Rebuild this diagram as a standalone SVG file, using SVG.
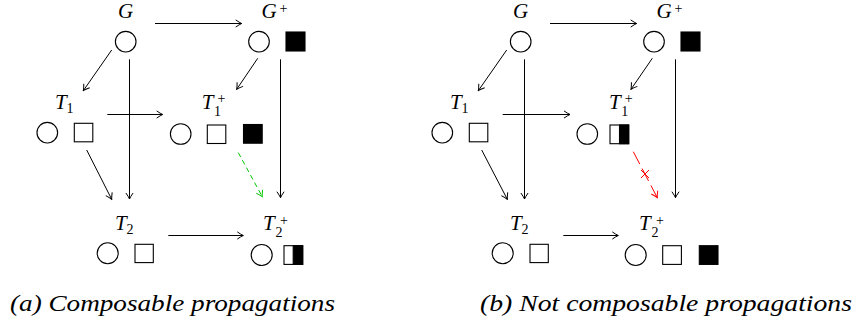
<svg xmlns="http://www.w3.org/2000/svg" width="858" height="324" viewBox="0 0 858 324">
<style>
.c{fill:#fff;stroke:#000;stroke-width:1.1}
.s{fill:#fff;stroke:#000;stroke-width:1.1}
.b{fill:#000;stroke:#000;stroke-width:1.1}
.e{fill:none;stroke:#000;stroke-width:1}
.lbl{font-family:'Liberation Serif','DejaVu Serif','Times New Roman',serif;font-style:italic;font-size:21px;fill:#000}
.sc{font-family:'Liberation Serif','DejaVu Serif','Times New Roman',serif;font-size:14px;fill:#000}
.cap{font-family:'Liberation Serif','DejaVu Serif','Times New Roman',serif;font-style:italic;font-size:23px;fill:#000}
</style>
<defs>
<marker id="ah" markerUnits="userSpaceOnUse" viewBox="-8 -5 9 10" markerWidth="9" markerHeight="10" refX="0" refY="0" orient="auto">
<path d="M -6 -3.6 Q -2.2 -0.9 0 0 Q -2.2 0.9 -6 3.6" fill="none" stroke="#000" stroke-width="1"/>
</marker>
<marker id="ahg" markerUnits="userSpaceOnUse" viewBox="-8 -5 9 10" markerWidth="9" markerHeight="10" refX="0" refY="0" orient="auto">
<path d="M -6 -3.6 Q -2.2 -0.9 0 0 Q -2.2 0.9 -6 3.6" fill="none" stroke="#00c800" stroke-width="1"/>
</marker>
<marker id="ahr" markerUnits="userSpaceOnUse" viewBox="-8 -5 9 10" markerWidth="9" markerHeight="10" refX="0" refY="0" orient="auto">
<path d="M -6 -3.6 Q -2.2 -0.9 0 0 Q -2.2 0.9 -6 3.6" fill="none" stroke="#ff0000" stroke-width="1"/>
</marker>
</defs>

<!-- Panel (a) -->
<g id="a-G">
<text class="lbl" x="125.5" y="18" text-anchor="middle">G</text>
<circle class="c" cx="125.7" cy="41.7" r="10.3"/>
</g>
<g id="a-Gplus">
<text class="lbl" x="261.5" y="18">G</text>
<text class="sc" x="279.5" y="13">+</text>
<circle class="c" cx="259" cy="41.7" r="10.3"/>
<rect class="b" x="286" y="32" width="19" height="19"/>
</g>
<g id="a-T1">
<text class="lbl" x="55" y="108.5">T</text>
<text class="sc" x="66.5" y="113">1</text>
<circle class="c" cx="47.3" cy="132.7" r="10.3"/>
<rect class="s" x="74.3" y="123.3" width="18.5" height="18.5"/>
</g>
<g id="a-T1plus">
<text class="lbl" x="201.7" y="108.5">T</text>
<text class="sc" x="214" y="116">1</text>
<text class="sc" x="217.5" y="103">+</text>
<circle class="c" cx="180.7" cy="134" r="10.3"/>
<rect class="s" x="207.3" y="125" width="18.5" height="18.5"/>
<rect class="b" x="243.5" y="124.5" width="18.7" height="18.7"/>
</g>
<g id="a-T2">
<text class="lbl" x="115" y="230">T</text>
<text class="sc" x="126.5" y="234">2</text>
<circle class="c" cx="107.7" cy="253.3" r="10.5"/>
<rect class="s" x="135" y="244.3" width="18.3" height="18.3"/>
</g>
<g id="a-T2plus">
<text class="lbl" x="263" y="230">T</text>
<text class="sc" x="275.5" y="237">2</text>
<text class="sc" x="280" y="225">+</text>
<circle class="c" cx="261.7" cy="255" r="10.5"/>
<rect class="s" x="284" y="245.7" width="18.7" height="18.7"/>
<rect class="b" x="293.2" y="245.7" width="9.5" height="18.7"/>
</g>

<!-- Panel (b) -->
<g id="b-G">
<text class="lbl" x="520.5" y="18" text-anchor="middle">G</text>
<circle class="c" cx="520.7" cy="41.7" r="10.3"/>
</g>
<g id="b-Gplus">
<text class="lbl" x="656.5" y="18">G</text>
<text class="sc" x="674.5" y="13">+</text>
<circle class="c" cx="654" cy="41.7" r="10.3"/>
<rect class="b" x="681" y="32" width="19" height="19"/>
</g>
<g id="b-T1">
<text class="lbl" x="450" y="108.5">T</text>
<text class="sc" x="461.5" y="113">1</text>
<circle class="c" cx="442.3" cy="132.7" r="10.3"/>
<rect class="s" x="469.3" y="123.3" width="18.5" height="18.5"/>
</g>
<g id="b-T1plus">
<text class="lbl" x="609" y="108.5">T</text>
<text class="sc" x="621.3" y="116">1</text>
<text class="sc" x="624.8" y="103">+</text>
<circle class="c" cx="587.3" cy="134" r="10.3"/>
<rect class="s" x="610" y="125" width="18.7" height="18.7"/>
<rect class="b" x="619.5" y="125" width="9.2" height="18.7"/>
</g>
<g id="b-T2">
<text class="lbl" x="510" y="230">T</text>
<text class="sc" x="521.5" y="234">2</text>
<circle class="c" cx="502.7" cy="253.3" r="10.5"/>
<rect class="s" x="530" y="244.3" width="18.3" height="18.3"/>
</g>
<g id="b-T2plus">
<text class="lbl" x="639" y="230">T</text>
<text class="sc" x="651.5" y="237">2</text>
<text class="sc" x="656" y="225">+</text>
<circle class="c" cx="635.7" cy="255" r="10.5"/>
<rect class="s" x="662.7" y="245.7" width="18.7" height="18.7"/>
<rect class="b" x="699.3" y="245.7" width="18.7" height="18.7"/>
</g>

<g id="connectors">
<line class="e" x1="155" y1="23.5" x2="241.7" y2="23.5" marker-end="url(#ah)"/>
<line class="e" x1="111.7" y1="50" x2="83.3" y2="90.7" marker-end="url(#ah)"/>
<line class="e" x1="129.5" y1="59.3" x2="129.5" y2="199" marker-end="url(#ah)"/>
<line class="e" x1="257.7" y1="58.3" x2="236.7" y2="89.3" marker-end="url(#ah)"/>
<line class="e" x1="280.5" y1="59.3" x2="280.5" y2="197.7" marker-end="url(#ah)"/>
<line class="e" x1="107.3" y1="114.5" x2="162.7" y2="114.5" marker-end="url(#ah)"/>
<line class="e" x1="86.7" y1="150" x2="111.7" y2="199.3" marker-end="url(#ah)"/>
<line class="e" x1="168.3" y1="235.5" x2="243.3" y2="235.5" marker-end="url(#ah)"/>
<line x1="238.3" y1="152.7" x2="262.3" y2="196.7" fill="none" stroke="#00c800" stroke-width="1" stroke-dasharray="5 3.5" marker-end="url(#ahg)"/>
<line class="e" x1="550" y1="23.5" x2="636.7" y2="23.5" marker-end="url(#ah)"/>
<line class="e" x1="506.7" y1="50" x2="478.3" y2="90.7" marker-end="url(#ah)"/>
<line class="e" x1="524.5" y1="59.3" x2="524.5" y2="199" marker-end="url(#ah)"/>
<line class="e" x1="652.3" y1="58.3" x2="631" y2="89.3" marker-end="url(#ah)"/>
<line class="e" x1="675.5" y1="59.3" x2="675.5" y2="197.7" marker-end="url(#ah)"/>
<line class="e" x1="502.7" y1="114.5" x2="570" y2="114.5" marker-end="url(#ah)"/>
<line class="e" x1="481.7" y1="150" x2="507.3" y2="199.3" marker-end="url(#ah)"/>
<line class="e" x1="563.3" y1="235.5" x2="618.3" y2="235.5" marker-end="url(#ah)"/>
<line x1="633.3" y1="151.7" x2="657.3" y2="197.7" fill="none" stroke="#ff0000" stroke-width="1" stroke-dasharray="14 5" marker-end="url(#ahr)"/>
<path d="M 641 170 L 649 178 M 649 170 L 641 178" fill="none" stroke="#ff0000" stroke-width="1"/>
</g>

<text class="cap" x="10" y="311" textLength="325" lengthAdjust="spacingAndGlyphs">(a) Composable propagations</text>
<text class="cap" x="480" y="311" textLength="372" lengthAdjust="spacingAndGlyphs">(b) Not composable propagations</text>
</svg>
